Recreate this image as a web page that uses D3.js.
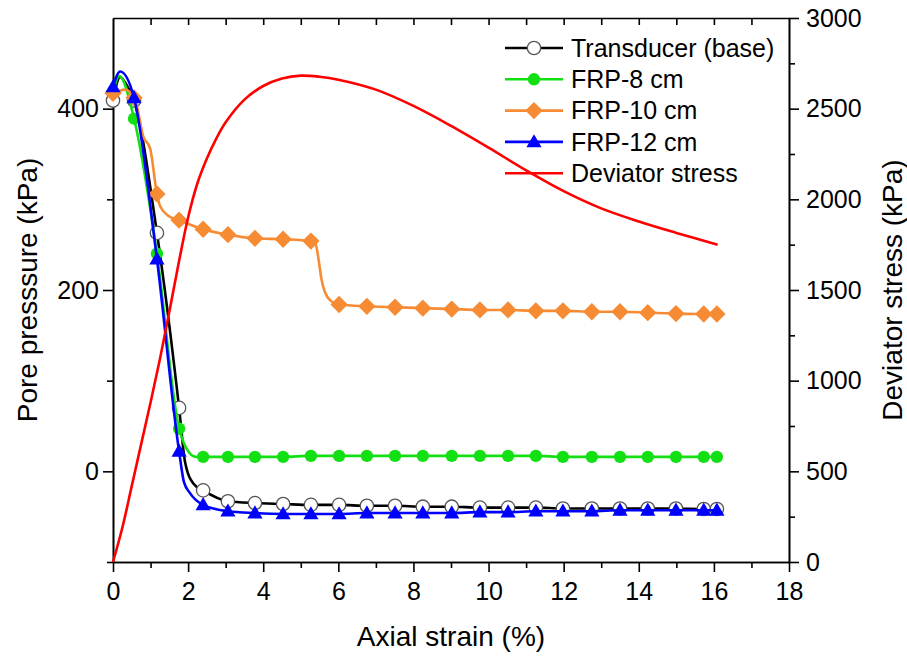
<!DOCTYPE html>
<html>
<head>
<meta charset="utf-8">
<script src="https://cdn.jsdelivr.net/npm/d3@7"></script>
<style>
  body { margin: 0; background: #fff; }
  text { font-family: "Liberation Sans", Arial, sans-serif; fill: #000; }
</style>
</head>
<body>
<script>
// Marker positions (axial strain, %) shared by the pore pressure curves
const strain = [0, 0.56, 1.17, 1.76, 2.40, 3.06, 3.78, 4.53, 5.27, 6.02, 6.76, 7.51,
    8.25, 9.02, 9.77, 10.52, 11.26, 11.98, 12.75, 13.50, 14.24, 14.99, 15.73, 16.08];

// Pore pressure (kPa) at the marker positions
const transducer = [409, 409, 263, 70, -21, -33, -35, -36, -37, -37, -38, -38,
    -39, -39, -40, -40, -40, -41, -41, -41, -41, -41, -41.5, -41.5];
const frp8 = [418, 389, 240, 47, 16, 16, 16, 16, 17, 17, 17, 17,
    17, 17, 17, 17, 17, 16, 16, 16, 16, 16, 16, 16];
const frp10 = [417, 412, 306, 277, 267, 261, 257, 256, 254, 184, 182, 181,
    180, 179, 178, 178, 177, 177, 176, 176, 175, 174, 173.5, 173.5];
const frp12 = [424, 412, 234, 22, -37, -44, -46, -47, -47, -47, -46, -46,
    -46, -46, -45, -45, -44, -44, -44, -43, -43, -43, -43, -43];

// Extra (unmarked) readings between markers: [strain, kPa]
const transducerExtra = [[0.19, 435], [0.35, 427], [1.92, 10], [2.15, -14]];
const frp8Extra = [[0.17, 436], [1.96, 25], [2.2, 16]];
const frp10Extra = [[0.32, 421], [0.63, 404], [0.80, 370], [0.99, 356], [1.25, 293],
    [1.47, 282], [5.40, 250], [5.48, 232], [5.55, 212], [5.65, 197], [5.80, 188]];
const frp12Extra = [[0.19, 441], [1.89, -12], [2.05, -24]];

// Deviator stress (kPa)
const stressStrain = [0, 0.25, 0.5, 0.75, 1.0, 1.25, 1.5, 1.75, 2.0, 2.25, 2.5, 2.75, 3.0,
    3.5, 4.0, 4.5, 5.0, 5.5, 6.0, 7.0, 8.0, 9.0, 10.0, 11.0, 12.0, 13.0, 14.0, 15.0, 16.1];
const stressValues = [0, 190, 420, 650, 880, 1120, 1380, 1650, 1900, 2090, 2225, 2335, 2425,
    2550, 2625, 2666, 2682, 2676, 2660, 2605, 2515, 2405, 2285, 2160, 2045, 1950, 1878, 1815, 1750];

const xTicks = d3.range(0, 19, 2);
const leftTicks = [0, 200, 400];
const rightTicks = d3.range(0, 3001, 500);

const width = 907, height = 658;
const margin = { top: 18, right: 118, bottom: 96, left: 113 };

const svg = d3.select("body").append("svg")
    .attr("width", width)
    .attr("height", height);

const x = d3.scaleLinear().domain([0, 18]).range([margin.left, width - margin.right]);
const yL = d3.scaleLinear().domain([-100, 500]).range([height - margin.bottom, margin.top]);
const yR = d3.scaleLinear().domain([0, 3000]).range([height - margin.bottom, margin.top]);

// Axes
function styleAxis(g) {
    g.selectAll("path,line").attr("stroke", "#000").attr("stroke-width", 1.6);
    g.selectAll("text").style("font-size", "25px").attr("font-family", null);
}

// bottom
svg.append("g").attr("transform", `translate(0,${yL.range()[0]})`)
    .call(d3.axisBottom(x).tickValues(d3.range(1, 18, 2)).tickSize(6).tickFormat("").tickSizeOuter(0))
    .call(styleAxis);
svg.append("g").attr("transform", `translate(0,${yL.range()[0]})`)
    .call(d3.axisBottom(x).tickValues(xTicks).tickSize(10).tickPadding(10).tickSizeOuter(0))
    .call(styleAxis);
// top (inward ticks, no labels)
svg.append("g").attr("transform", `translate(0,${margin.top})`)
    .call(d3.axisTop(x).tickValues(d3.range(1, 18)).tickSize(-7).tickFormat("").tickSizeOuter(0))
    .call(styleAxis);
// left
svg.append("g").attr("transform", `translate(${margin.left},0)`)
    .call(d3.axisLeft(yL).tickValues([-100, 100, 300]).tickSize(6).tickFormat("").tickSizeOuter(0))
    .call(styleAxis);
svg.append("g").attr("transform", `translate(${margin.left},0)`)
    .call(d3.axisLeft(yL).tickValues(leftTicks).tickSize(10).tickPadding(4).tickSizeOuter(0))
    .call(styleAxis);
// right
svg.append("g").attr("transform", `translate(${width - margin.right},0)`)
    .call(d3.axisRight(yR).tickValues(d3.range(250, 3000, 500)).tickSize(6).tickFormat("").tickSizeOuter(0))
    .call(styleAxis);
svg.append("g").attr("transform", `translate(${width - margin.right},0)`)
    .call(d3.axisRight(yR).tickValues(rightTicks).tickSize(10).tickPadding(7)
        .tickFormat(d3.format("d")).tickSizeOuter(0))
    .call(styleAxis);

// Axis titles
svg.append("text")
    .attr("x", (x.range()[0] + x.range()[1]) / 2)
    .attr("y", 646)
    .attr("text-anchor", "middle")
    .style("font-size", "28px")
    .text("Axial strain (%)");
svg.append("text")
    .attr("transform", `translate(37,290) rotate(-90)`)
    .attr("text-anchor", "middle")
    .style("font-size", "28px")
    .text("Pore presssure (kPa)");
svg.append("text")
    .attr("transform", `translate(902,290) rotate(-90)`)
    .attr("text-anchor", "middle")
    .style("font-size", "28px")
    .text("Deviator stress (kPa)");

// Series
const series = [
    { name: "Transducer (base)", values: transducer, extra: transducerExtra, color: "#000", marker: "open" },
    { name: "FRP-8 cm", values: frp8, extra: frp8Extra, color: "#12e012", marker: "circle" },
    { name: "FRP-10 cm", values: frp10, extra: frp10Extra, color: "#f68b33", marker: "diamond" },
    { name: "FRP-12 cm", values: frp12, extra: frp12Extra, color: "#0000ff", marker: "triangle" }
];

const symbols = {
    open: d3.symbol(d3.symbolCircle, 140),
    circle: d3.symbol(d3.symbolCircle, 120),
    diamond: d3.symbol(d3.symbolSquare, 150),
    triangle: d3.symbol(d3.symbolTriangle, 100)
};

function drawMarker(g, s, px, py) {
    const p = g.append("path")
        .attr("d", symbols[s.marker]())
        .attr("transform", `translate(${px},${py})` + (s.marker === "diamond" ? " rotate(45)" : "") +
            (s.marker === "triangle" ? " translate(0,1)" : ""));
    if (s.marker === "open") {
        p.attr("fill", "#fff").attr("stroke", "#555").attr("stroke-width", 1.3);
    } else {
        p.attr("fill", s.color);
    }
}

const line = d3.line()
    .x(d => x(d[0]))
    .y(d => yL(d[1]))
    .curve(d3.curveMonotoneX);

series.forEach(s => {
    const pts = strain.map((v, i) => [v, s.values[i]]).concat(s.extra)
        .sort((a, b) => a[0] - b[0]);
    const g = svg.append("g");
    g.append("path")
        .attr("d", line(pts))
        .attr("fill", "none")
        .attr("stroke", s.color)
        .attr("stroke-width", 2.6)
        .attr("stroke-linejoin", "round");
    strain.forEach((v, i) => drawMarker(g, s, x(v), yL(s.values[i])));
});

// Deviator stress on right axis
svg.append("path")
    .datum(stressStrain.map((v, i) => [v, stressValues[i]]))
    .attr("d", d3.line().x(d => x(d[0])).y(d => yR(d[1])).curve(d3.curveCatmullRom.alpha(0.5)))
    .attr("fill", "none")
    .attr("stroke", "#ff0000")
    .attr("stroke-width", 2.6);

// Legend
const legend = svg.append("g");
const legendRows = series.concat([{ name: "Deviator stress", color: "#ff0000", marker: null }]);
legendRows.forEach((s, i) => {
    const ly = 48 + i * 31.3;
    legend.append("line")
        .attr("x1", 505).attr("x2", 563)
        .attr("y1", ly).attr("y2", ly)
        .attr("stroke", s.color)
        .attr("stroke-width", 2.6);
    if (s.marker) drawMarker(legend, s, 534, ly);
    legend.append("text")
        .attr("x", 571)
        .attr("y", ly)
        .attr("dy", "0.35em")
        .style("font-size", "25px")
        .text(s.name);
});
</script>
</body>
</html>
